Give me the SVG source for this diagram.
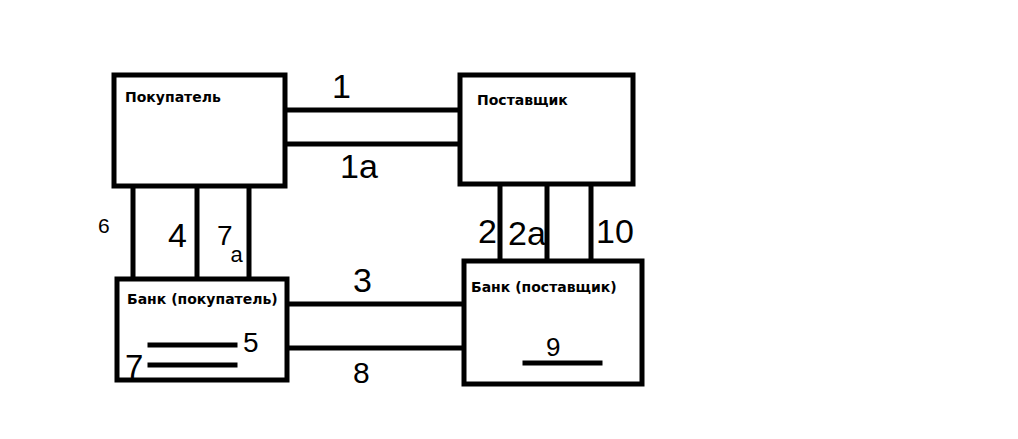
<svg xmlns="http://www.w3.org/2000/svg" width="1018" height="439" viewBox="0 0 1018 439">
<style>
.box{fill:#fff;stroke:#000;stroke-width:5}
.ln{stroke:#000;stroke-width:5;fill:none;stroke-linecap:square}
.t{font-family:"DejaVu Sans",sans-serif;font-weight:bold;font-size:14px;fill:#000}
.h{font-family:"Liberation Sans",sans-serif;fill:#000}
</style>
<rect width="1018" height="439" fill="#fff"/>
<g id="connectors">
<line class="ln" x1="287" y1="110" x2="458" y2="110"/>
<line class="ln" x1="287" y1="144" x2="458" y2="144"/>
<line class="ln" x1="133" y1="188" x2="133" y2="277"/>
<line class="ln" x1="197" y1="188" x2="197" y2="277"/>
<line class="ln" x1="249" y1="188" x2="249" y2="277"/>
<line class="ln" x1="500" y1="186" x2="500" y2="259"/>
<line class="ln" x1="547" y1="186" x2="547" y2="259"/>
<line class="ln" x1="591" y1="186" x2="591" y2="259"/>
<line class="ln" x1="289" y1="304" x2="464" y2="304"/>
<line class="ln" x1="289" y1="348" x2="464" y2="348"/>
<text class="h" x="332" y="98" font-size="34">1</text>
<text class="h" x="340" y="178" font-size="34">1a</text>
<text class="h" x="98" y="233" font-size="21">6</text>
<text class="h" x="168" y="247" font-size="34">4</text>
<text class="h" x="217" y="245" font-size="28">7<tspan dx="-2" dy="17" font-size="22">a</tspan></text>
<text class="h" x="353" y="292" font-size="34">3</text>
<text class="h" x="353" y="383" font-size="30">8</text>
<text class="h" x="478" y="243" font-size="34">2</text>
<text class="h" x="508" y="245" font-size="34">2a</text>
<text class="h" x="596" y="243" font-size="34">10</text>
</g>
<g id="pokupatel">
<rect class="box" x="114" y="75" width="171" height="111"/>
<text class="t" x="125" y="102">Покупатель</text>
</g>
<g id="postavshchik">
<rect class="box" x="460" y="75" width="173" height="109"/>
<text class="t" x="477" y="105">Поставщик</text>
</g>
<g id="bank-pokupatel">
<rect class="box" x="117" y="279" width="170" height="101"/>
<text class="t" x="127" y="304">Банк (покупатель)</text>
<line class="ln" x1="150" y1="345" x2="235" y2="345"/>
<line class="ln" x1="150" y1="365" x2="235" y2="365"/>
<text class="h" x="243" y="352" font-size="28">5</text>
<text class="h" x="125" y="378" font-size="33">7</text>
</g>
<g id="bank-postavshchik">
<rect class="box" x="464" y="261" width="178" height="123"/>
<text class="t" x="471" y="292">Банк (поставщик)</text>
<line class="ln" x1="525" y1="363" x2="600" y2="363"/>
<text class="h" x="546" y="356" font-size="26">9</text>
</g>
</svg>
